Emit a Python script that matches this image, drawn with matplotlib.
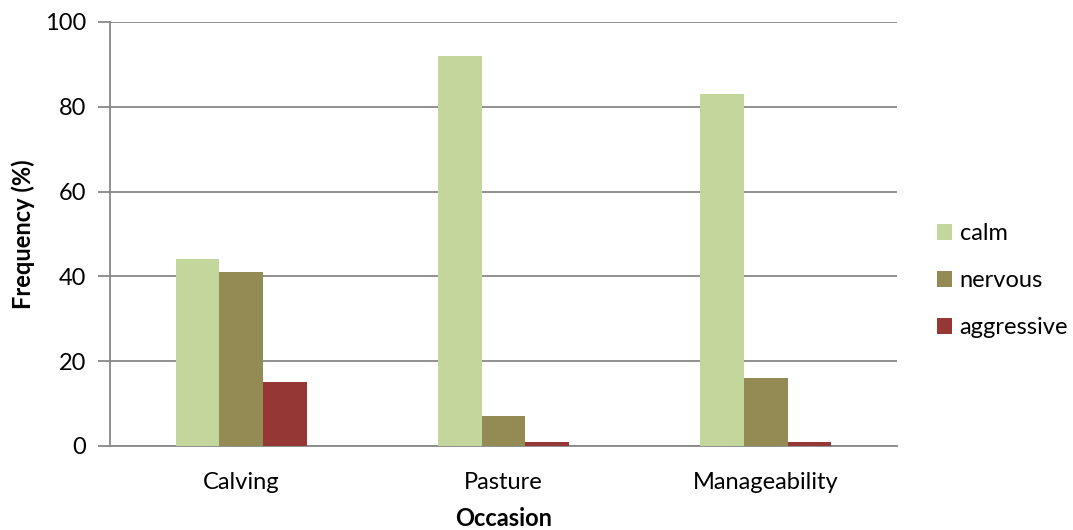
import numpy as np
import matplotlib.pyplot as plt

occasions = ["Calving", "Pasture", "Manageability"]
calm = [44, 92, 83]
nervous = [41, 7, 16]
aggressive = [15, 1, 1]
series = ["calm", "nervous", "aggressive"]
colors = ["#C3D69B", "#948A54", "#953735"]

plt.rcParams['font.family'] = ['Lato', 'DejaVu Sans']

fig = plt.figure(figsize=(10.73, 5.30), dpi=100)
ax = fig.add_axes([110 / 1073, 1 - 446 / 530, 787 / 1073, 424 / 530])

x = np.arange(len(occasions))
w = 1 / 6
for i, (vals, name, c) in enumerate(zip([calm, nervous, aggressive], series, colors)):
    ax.bar(x + (i - 1) * w, vals, width=w, color=c, label=name, zorder=3)

ax.set_xlim(-0.5, 2.5)
ax.set_ylim(0, 100)
ax.set_yticks(range(0, 101, 20))
ax.set_xticks(x)
ax.set_xticklabels(occasions)
ax.yaxis.grid(True, color="#888888", linewidth=1.3, zorder=0)
ax.tick_params(axis="y", length=9, width=1.3, color="#888888", labelsize=17, pad=8)
ax.tick_params(axis="x", length=0, labelsize=17, pad=19)
for s in ["top", "right"]:
    ax.spines[s].set_visible(False)
for s in ["left", "bottom"]:
    ax.spines[s].set_color("#888888")
    ax.spines[s].set_linewidth(1.3)

ax.set_ylabel("Frequency (%)", fontsize=17, fontweight="bold", labelpad=7)
ax.set_xlabel("Occasion", fontsize=17, fontweight="bold", labelpad=10)

ax.legend(loc="center left", bbox_to_anchor=(1.024, 0.39), frameon=False,
          fontsize=17, handlelength=0.65, handleheight=0.65, handletextpad=0.3,
          labelspacing=1.1)

fig.savefig("out.png", dpi=100)
